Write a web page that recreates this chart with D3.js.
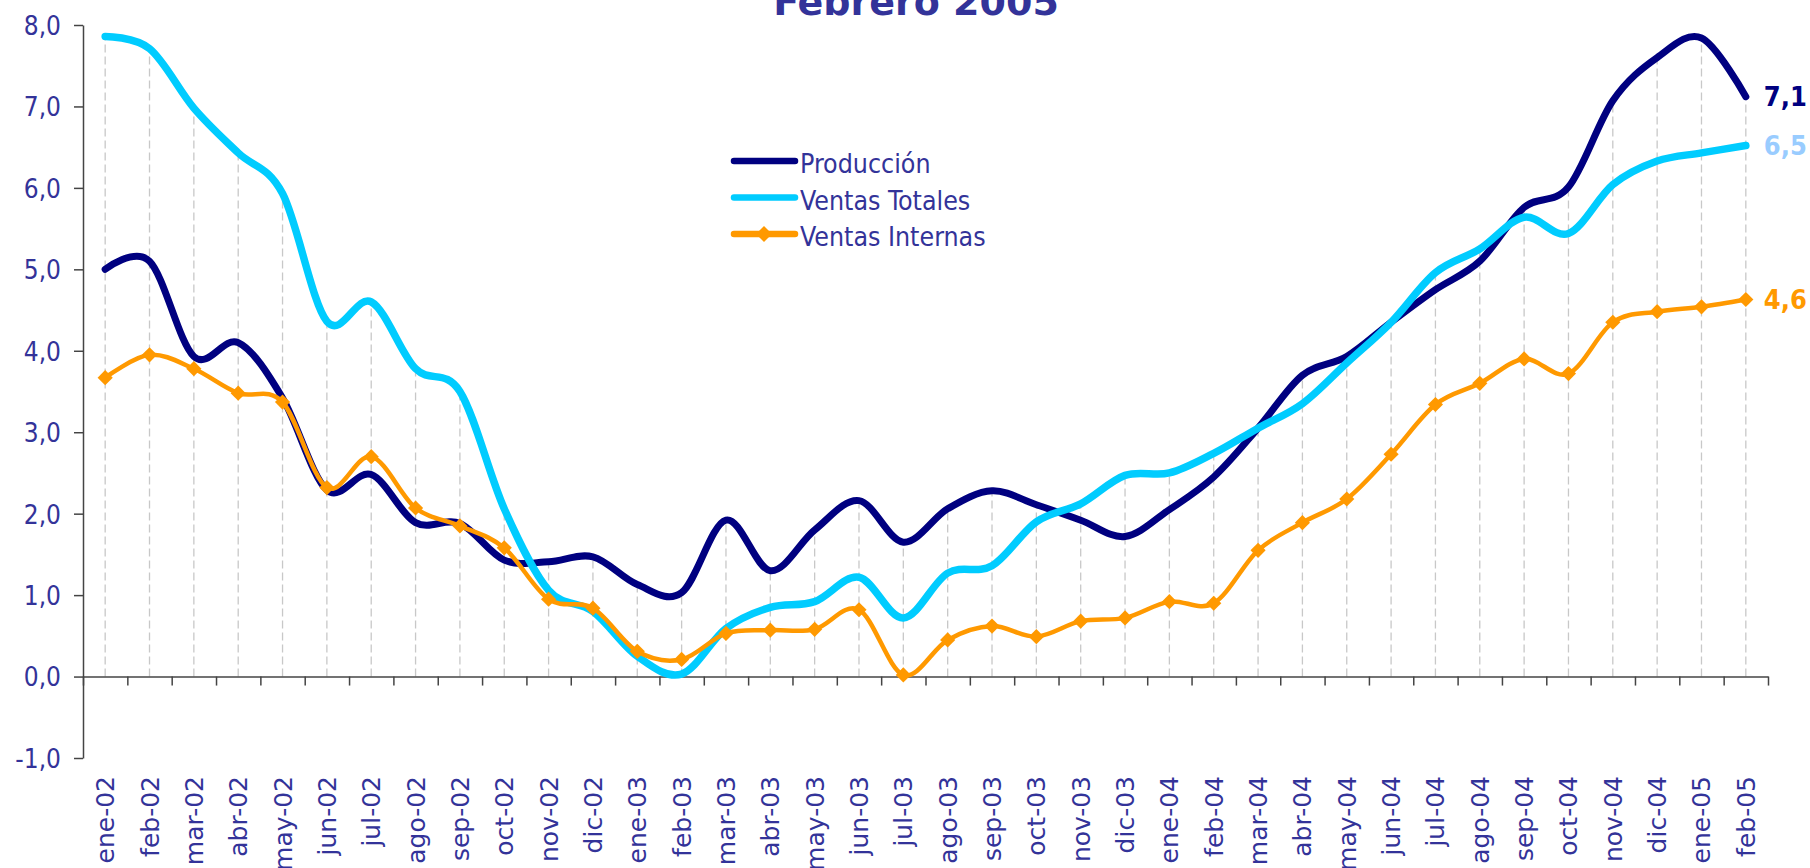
<!DOCTYPE html>
<html>
<head>
<meta charset="utf-8">
<script src="https://cdn.jsdelivr.net/npm/d3@7"></script>
<style>
  body { margin: 0; background: #fff; }
  svg { display: block; }
  .ylab { font-family: "DejaVu Sans Condensed", "Liberation Sans Narrow", "DejaVu Sans", sans-serif; }
</style>
</head>
<body>
<svg id="chart"></svg>
<script>
// Chart Data
const months = [
  "ene-02", "feb-02", "mar-02", "abr-02", "may-02", "jun-02", "jul-02", "ago-02", "sep-02", "oct-02", "nov-02", "dic-02",
  "ene-03", "feb-03", "mar-03", "abr-03", "may-03", "jun-03", "jul-03", "ago-03", "sep-03", "oct-03", "nov-03", "dic-03",
  "ene-04", "feb-04", "mar-04", "abr-04", "may-04", "jun-04", "jul-04", "ago-04", "sep-04", "oct-04", "nov-04", "dic-04",
  "ene-05", "feb-05"
];
const produccion = [
  5.0, 5.1, 3.93, 4.1, 3.42, 2.29, 2.48, 1.89, 1.88, 1.43, 1.41, 1.47,
  1.13, 1.03, 1.92, 1.3, 1.8, 2.16, 1.65, 2.06, 2.28, 2.11, 1.92, 1.72,
  2.05, 2.45, 3.05, 3.7, 3.93, 4.35, 4.75, 5.1, 5.76, 6.01, 7.07, 7.6,
  7.84, 7.12
];
const ventasTotales = [
  7.86, 7.71, 6.98, 6.43, 5.93, 4.36, 4.6, 3.78, 3.5, 2.06, 1.06, 0.8,
  0.25, 0.03, 0.59, 0.85, 0.92, 1.22, 0.72, 1.27, 1.36, 1.9, 2.12, 2.47,
  2.5, 2.74, 3.05, 3.35, 3.85, 4.35, 4.96, 5.25, 5.64, 5.44, 6.04, 6.33,
  6.43, 6.52
];
const ventasInternas = [
  3.67, 3.95, 3.78, 3.48, 3.37, 2.32, 2.7, 2.07, 1.85, 1.58, 0.95, 0.84,
  0.31, 0.21, 0.53, 0.57, 0.58, 0.82, 0.02, 0.45, 0.62, 0.49, 0.68, 0.72,
  0.92, 0.9, 1.55, 1.89, 2.18, 2.73, 3.34, 3.6, 3.9, 3.72, 4.35, 4.48,
  4.54, 4.63
];
const yTicks = [-1, 0, 1, 2, 3, 4, 5, 6, 7, 8];
const titleText = "Febrero 2005";

// Series Definitions
const TEXT_COLOR = "#333399";
const series = [
  { name: "Producción", values: produccion, color: "#000080", width: 7, label: "7,1", labelColor: "#000080" },
  { name: "Ventas Totales", values: ventasTotales, color: "#00ccff", width: 7.5, label: "6,5", labelColor: "#99ccff" },
  { name: "Ventas Internas", values: ventasInternas, color: "#ff9900", width: 4.5, label: "4,6", labelColor: "#ff9900", marker: true }
];

// SVG Dimensions
const svgWidth = 1810;
const svgHeight = 868;
const plotLeft = 83;
const plotRight = 1768;
const plotTop = 25;
const plotBottom = 758;

const svg = d3.select("#chart").attr("width", svgWidth).attr("height", svgHeight);

// Scales
const xScale = d3.scaleBand().domain(months).range([plotLeft, plotRight]);
const xCenter = (m) => xScale(m) + xScale.bandwidth() / 2;
const xEdges = d3.scaleLinear().domain([0, months.length]).range([plotLeft, plotRight]);
const yScale = d3.scaleLinear().domain([-1, 8]).range([plotBottom, plotTop]);

const fmt = (d) => d.toFixed(1).replace(".", ",");

// Drop Lines
svg.append("g")
  .selectAll("line")
  .data(months)
  .join("line")
  .attr("x1", (m) => xCenter(m))
  .attr("x2", (m) => xCenter(m))
  .attr("y1", yScale(0))
  .attr("y2", (m, i) => yScale(d3.max(series, (s) => s.values[i])))
  .style("stroke", "#c8c8c8")
  .style("stroke-width", 1.3)
  .style("stroke-dasharray", "8,4");

// Y Axis
const yAxis = svg.append("g")
  .attr("transform", `translate(${plotLeft},0)`)
  .call(d3.axisLeft(yScale).tickValues(yTicks).tickSize(9).tickSizeOuter(0).tickPadding(13).tickFormat(fmt));
yAxis.select(".domain").style("stroke", "#444").style("stroke-width", 1.5);
yAxis.selectAll(".tick line").style("stroke", "#444").style("stroke-width", 1.5);
yAxis.selectAll("text")
  .classed("ylab", true)
  .style("font-size", "26px")
  .style("fill", TEXT_COLOR)
  .attr("dy", "0.36em");

// X Axis (tick marks on category edges)
const xAxis = svg.append("g")
  .attr("transform", `translate(0,${yScale(0)})`)
  .call(d3.axisBottom(xEdges).tickValues(d3.range(0, months.length + 1)).tickSize(9).tickSizeOuter(0).tickFormat(""));
xAxis.select(".domain").style("stroke", "#444").style("stroke-width", 1.5);
xAxis.selectAll(".tick line").style("stroke", "#444").style("stroke-width", 1.5);

// X Labels
svg.append("g")
  .selectAll("text")
  .data(months)
  .join("text")
  .attr("transform", (m) => `translate(${xCenter(m)},776) rotate(-90)`)
  .attr("text-anchor", "end")
  .attr("dy", "0.36em")
  .style("font-family", "'DejaVu Sans', Verdana, sans-serif")
  .style("font-size", "25px")
  .style("fill", TEXT_COLOR)
  .text((m) => m);

// Lines
const line = d3.line()
  .x((d, i) => xCenter(months[i]))
  .y((d) => yScale(d))
  .curve(d3.curveCardinal.tension(0));

series.forEach((s) => {
  svg.append("path")
    .datum(s.values)
    .attr("d", line)
    .style("fill", "none")
    .style("stroke", s.color)
    .style("stroke-width", s.width)
    .style("stroke-linecap", "round")
    .style("stroke-linejoin", "round");

  if (s.marker) {
    svg.append("g")
      .selectAll("path")
      .data(s.values)
      .join("path")
      .attr("d", d3.symbol(d3.symbolSquare, 115))
      .attr("transform", (d, i) => `translate(${xCenter(months[i])},${yScale(d)}) rotate(45)`)
      .style("fill", s.color);
  }

  // End Label
  const last = s.values.length - 1;
  svg.append("text")
    .attr("x", xCenter(months[last]) + 18)
    .attr("y", yScale(s.values[last]))
    .attr("dy", "0.36em")
    .style("font-family", "'DejaVu Sans Condensed', 'DejaVu Sans', sans-serif")
    .style("font-weight", "bold")
    .style("font-size", "27px")
    .style("fill", s.labelColor)
    .text(s.label);
});

// Title
svg.append("text")
  .attr("x", 916)
  .attr("y", 15)
  .attr("text-anchor", "middle")
  .style("font-family", "'DejaVu Sans', Verdana, sans-serif")
  .style("font-weight", "bold")
  .style("font-size", "38px")
  .style("fill", TEXT_COLOR)
  .text(titleText);

// Legend
const legend = svg.append("g").attr("transform", "translate(734,161)");
const legendRow = legend.selectAll("g")
  .data(series)
  .join("g")
  .attr("transform", (d, i) => `translate(0,${i * 36.5})`);

legendRow.append("line")
  .attr("x1", 0)
  .attr("x2", 61)
  .style("stroke", (d) => d.color)
  .style("stroke-width", 6.5)
  .style("stroke-linecap", "round");

legendRow.filter((d) => d.marker)
  .append("path")
  .attr("d", d3.symbol(d3.symbolSquare, 130))
  .attr("transform", "translate(30,0) rotate(45)")
  .style("fill", (d) => d.color);

legendRow.append("text")
  .attr("x", 66)
  .attr("y", 12)
  .classed("ylab", true)
  .style("font-size", "26.5px")
  .style("fill", TEXT_COLOR)
  .text((d) => d.name);
</script>
</body>
</html>
